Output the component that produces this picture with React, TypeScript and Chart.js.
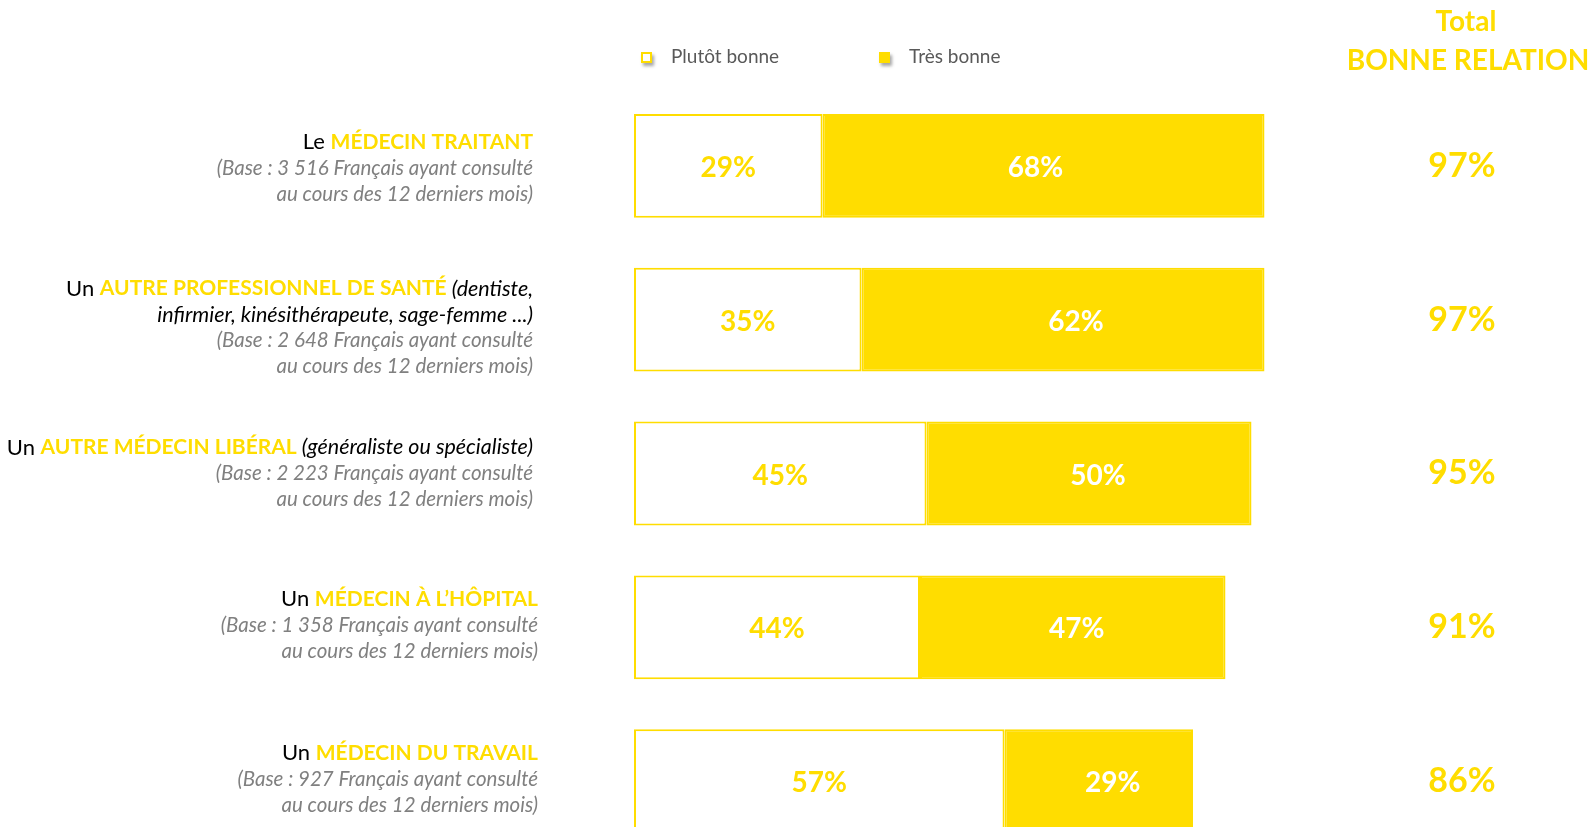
import React, { useEffect, useRef } from "react";
import { Chart, registerables } from "chart.js";
Chart.register(...registerables);

// ---------- DATA ----------
const categories = [
  "MÉDECIN TRAITANT",
  "AUTRE PROFESSIONNEL DE SANTÉ",
  "AUTRE MÉDECIN LIBÉRAL",
  "MÉDECIN À L’HÔPITAL",
  "MÉDECIN DU TRAVAIL",
];
const plutotBonne = [29, 35, 45, 44, 57];
const tresBonne = [68, 62, 50, 47, 29];
const totalBonne = [97, 97, 95, 91, 86];
const seriesNames = ["Plutôt bonne", "Très bonne"];
const totalHeader = ["Total", "BONNE RELATION"];

type Seg = { t: string; s: "n" | "b" | "i" | "g" };
const labelLines: Seg[][][] = [
  [
    [{ t: "Le ", s: "n" }, { t: "MÉDECIN TRAITANT", s: "b" }],
    [{ t: "(Base : 3 516 Français ayant consulté", s: "g" }],
    [{ t: "au cours des 12 derniers mois)", s: "g" }],
  ],
  [
    [{ t: "Un ", s: "n" }, { t: "AUTRE PROFESSIONNEL DE SANTÉ", s: "b" }, { t: " (dentiste,", s: "i" }],
    [{ t: "infirmier, kinésithérapeute, sage-femme ...)", s: "i" }],
    [{ t: "(Base : 2 648 Français ayant consulté", s: "g" }],
    [{ t: "au cours des 12 derniers mois)", s: "g" }],
  ],
  [
    [{ t: "Un ", s: "n" }, { t: "AUTRE MÉDECIN LIBÉRAL", s: "b" }, { t: " (généraliste ou spécialiste)", s: "i" }],
    [{ t: "(Base : 2 223 Français ayant consulté", s: "g" }],
    [{ t: "au cours des 12 derniers mois)", s: "g" }],
  ],
  [
    [{ t: "Un ", s: "n" }, { t: "MÉDECIN À L’HÔPITAL", s: "b" }],
    [{ t: "(Base : 1 358 Français ayant consulté", s: "g" }],
    [{ t: "au cours des 12 derniers mois)", s: "g" }],
  ],
  [
    [{ t: "Un ", s: "n" }, { t: "MÉDECIN DU TRAVAIL", s: "b" }],
    [{ t: "(Base : 927 Français ayant consulté", s: "g" }],
    [{ t: "au cours des 12 derniers mois)", s: "g" }],
  ],
];

// ---------- STYLE / LAYOUT ----------
const YELLOW = "#FFDD00";
const FONT = "Lato, 'Open Sans', sans-serif";
const CANVAS_W = 1590;
const CANVAS_H = 870;
const labelRight = [533, 533, 533, 538, 538];
const labelShift = [2, 1, 0, -2, -2];
const tresLabelNudge = [-8, 13, 9, 4, 14];
const totalX = 1462;
const headerX = 1466;

const segFont = (s: string) => {
  if (s === "n") return `22px ${FONT}`;
  if (s === "b") return `bold 21px ${FONT}`;
  if (s === "i") return `italic 21.5px ${FONT}`;
  return `italic 20.5px ${FONT}`;
};
const segColor = (s: string) => {
  if (s === "n") return "#000000";
  if (s === "b") return YELLOW;
  if (s === "i") return "#000000";
  return "#808080";
};

const overlayPlugin = {
  id: "overlay",
  afterDraw(chart: any) {
    const ctx = chart.ctx as CanvasRenderingContext2D;
    const yScale = chart.scales.y;
    ctx.save();

    // bar value labels
    chart.data.datasets.forEach((ds: any, di: number) => {
      const meta = chart.getDatasetMeta(di);
      meta.data.forEach((bar: any, i: number) => {
        const v = ds.data[i];
        const cx = (bar.x + bar.base) / 2 + (di === 1 ? tresLabelNudge[i] : 0);
        ctx.font = `bold 28px ${FONT}`;
        ctx.fillStyle = di === 0 ? YELLOW : "#FFFFFF";
        ctx.textAlign = "center";
        ctx.textBaseline = "middle";
        ctx.fillText(`${v}%`, cx, bar.y + 2);
      });
    });

    // totals
    totalBonne.forEach((v, i) => {
      const y = yScale.getPixelForValue(i);
      ctx.font = `bold 34px ${FONT}`;
      ctx.fillStyle = YELLOW;
      ctx.textAlign = "center";
      ctx.textBaseline = "middle";
      ctx.fillText(`${v}%`, totalX, y);
    });

    // total header
    ctx.font = `bold 28px ${FONT}`;
    ctx.fillStyle = YELLOW;
    ctx.textAlign = "center";
    ctx.textBaseline = "middle";
    ctx.fillText(totalHeader[0], headerX, 22);
    ctx.fillText(totalHeader[1], headerX + 2, 61);

    // legend
    const legendX = [641, 879];
    chart.data.datasets.forEach((ds: any, di: number) => {
      const x = legendX[di];
      const y = 52;
      ctx.save();
      ctx.shadowColor = "rgba(0,0,0,0.35)";
      ctx.shadowBlur = 3;
      ctx.shadowOffsetX = 2;
      ctx.shadowOffsetY = 3;
      ctx.fillStyle = ds.backgroundColor;
      ctx.fillRect(x, y, 11, 11);
      ctx.restore();
      if (di === 0) {
        ctx.strokeStyle = YELLOW;
        ctx.lineWidth = 2;
        ctx.strokeRect(x + 1, y + 1, 9, 9);
      }
      ctx.font = `19px ${FONT}`;
      ctx.fillStyle = "#595959";
      ctx.textAlign = "left";
      ctx.textBaseline = "middle";
      ctx.fillText(seriesNames[di], x + 30, y + 5);
    });

    // left labels
    labelLines.forEach((lines, i) => {
      const cy = yScale.getPixelForValue(i);
      const start = cy - 26 - (lines.length - 3) * 6 + labelShift[i];
      lines.forEach((line, li) => {
        const y = start + li * 26;
        let total = 0;
        line.forEach((sg) => {
          ctx.font = segFont(sg.s);
          total += ctx.measureText(sg.t).width;
        });
        let x = labelRight[i] - total;
        ctx.textAlign = "left";
        ctx.textBaseline = "middle";
        line.forEach((sg) => {
          ctx.font = segFont(sg.s);
          ctx.fillStyle = segColor(sg.s);
          ctx.fillText(sg.t, x, y);
          x += ctx.measureText(sg.t).width;
        });
      });
    });

    ctx.restore();
  },
};

export default function App() {
  const ref = useRef<HTMLCanvasElement | null>(null);
  useEffect(() => {
    if (!ref.current) return;
    const chart = new Chart(ref.current, {
      type: "bar",
      data: {
        labels: categories,
        datasets: [
          {
            label: seriesNames[0],
            data: plutotBonne,
            backgroundColor: "#FFFFFF",
            borderColor: YELLOW,
            borderWidth: 2,
            borderSkipped: false,
            categoryPercentage: 1,
            barPercentage: 0.675,
          },
          {
            label: seriesNames[1],
            data: tresBonne,
            backgroundColor: YELLOW,
            borderColor: YELLOW,
            borderWidth: 2,
            borderSkipped: false,
            categoryPercentage: 1,
            barPercentage: 0.675,
          },
        ],
      },
      options: {
        indexAxis: "y",
        responsive: false,
        animation: false,
        layout: { padding: { left: 634, right: 306, top: 89, bottom: 12 } },
        scales: {
          x: { stacked: true, min: 0, max: 100, display: false },
          y: { stacked: true, display: false },
        },
        plugins: { legend: { display: false }, tooltip: { enabled: false } },
      },
      plugins: [overlayPlugin],
    } as any);
    return () => chart.destroy();
  }, []);
  return (
    <div
      style={{
        position: "absolute",
        left: 0,
        top: 0,
        width: 1590,
        height: 827,
        overflow: "hidden",
        background: "#FFFFFF",
      }}
    >
      <canvas ref={ref} width={CANVAS_W} height={CANVAS_H} style={{ width: CANVAS_W, height: CANVAS_H, display: "block" }} />
    </div>
  );
}
